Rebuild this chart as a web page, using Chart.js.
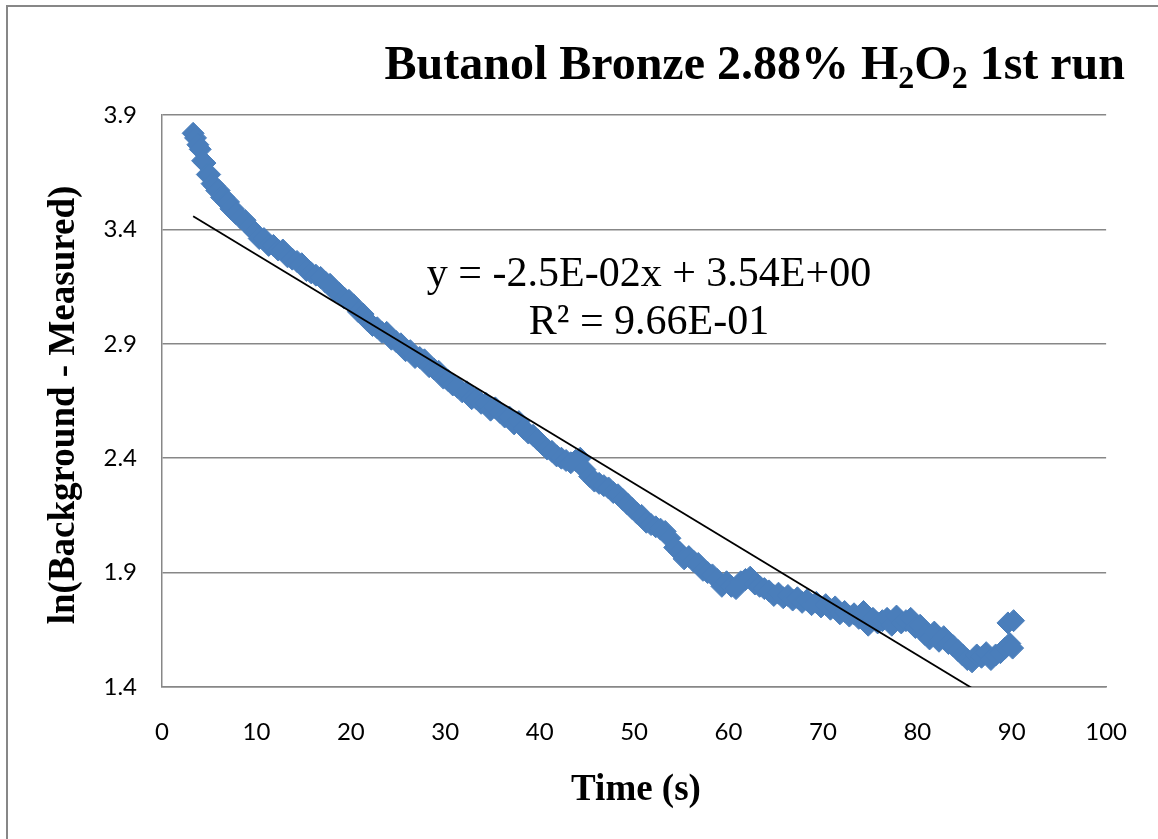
<!DOCTYPE html>
<html>
<head>
<meta charset="utf-8">
<script src="https://cdn.jsdelivr.net/npm/chart.js@4.4.1/dist/chart.umd.min.js"></script>
<style>
  html, body { margin: 0; padding: 0; background: #fff; }
  #wrap { width: 1158px; height: 839px; position: relative; }
</style>
</head>
<body>
<div id="wrap"><canvas id="decayChart" width="1158" height="839"></canvas></div>
<script>
// Time (s) of each reading
const times = [
  3.3, 3.55, 3.8, 4.05, 4.3, 4.55, 4.8, 5.05, 5.3, 5.55, 5.8, 6.05, 6.3, 6.55, 6.8, 7.05, 7.3, 7.55, 7.8,
  8.3, 8.8, 9.3, 9.8, 10.3, 10.8, 11.3, 11.8, 12.3, 12.8, 13.3, 13.8, 14.3, 14.8, 15.3, 15.8, 16.3, 16.8, 17.3, 17.8, 18.3, 18.8, 19.3, 19.8,
  20.3, 20.8, 21.3, 21.8, 22.3, 22.8, 23.3, 23.8, 24.3, 24.8, 25.3, 25.8, 26.3, 26.8, 27.3, 27.8, 28.3, 28.8, 29.3, 29.8,
  30.3, 30.8, 31.3, 31.8, 32.3, 32.8, 33.3, 33.8, 34.3, 34.8, 35.3, 35.8, 36.3, 36.8, 37.3, 37.8, 38.3, 38.8, 39.3, 39.8,
  40.3, 40.8, 41.3, 41.8, 42.3, 42.8, 43.3, 43.8, 44.3, 44.8, 45.3, 45.8, 46.3, 46.8, 47.3, 47.8, 48.3, 48.8, 49.3, 49.8,
  50.3, 50.8, 51.3, 51.8, 52.3, 52.8, 53.3, 53.8, 54.3, 54.8, 55.3, 55.8, 56.3, 56.8, 57.3, 57.8, 58.3, 58.8, 59.3, 59.8,
  60.3, 60.8, 61.3, 61.8, 62.3, 62.8, 63.3, 63.8, 64.3, 64.8, 65.3, 65.8, 66.3, 66.8, 67.3, 67.8, 68.3, 68.8, 69.3, 69.8,
  70.3, 70.8, 71.3, 71.8, 72.3, 72.8, 73.3, 73.8, 74.3, 74.8, 75.3, 75.8, 76.3, 76.8, 77.3, 77.8, 78.3, 78.8, 79.3, 79.8,
  80.3, 80.8, 81.3, 81.8, 82.3, 82.8, 83.3, 83.8, 84.3, 84.8, 85.3, 85.8, 86.3, 86.8, 87.3, 87.8, 88.3, 88.8, 89.3, 89.8,
  89.6, 90.1, 90.2
];

// ln(Background - Measured)
const lnSignal = [
  3.82, 3.80, 3.77, 3.75, 3.70, 3.69, 3.64, 3.64, 3.60, 3.59, 3.57, 3.57, 3.54, 3.54, 3.52, 3.52, 3.49, 3.49, 3.47,
  3.45, 3.44, 3.41, 3.39, 3.36, 3.36, 3.33, 3.33, 3.31, 3.31, 3.28, 3.27, 3.26, 3.25, 3.22, 3.21, 3.20, 3.19, 3.17, 3.16, 3.13, 3.12, 3.10, 3.09,
  3.07, 3.04, 3.03, 3.00, 2.98, 2.97, 2.95, 2.95, 2.92, 2.91, 2.90, 2.87, 2.87, 2.84, 2.84, 2.83, 2.80, 2.79, 2.78, 2.75,
  2.74, 2.72, 2.71, 2.69, 2.69, 2.66, 2.66, 2.64, 2.64, 2.61, 2.62, 2.60, 2.58, 2.58, 2.55, 2.56, 2.53, 2.51, 2.50, 2.48,
  2.46, 2.44, 2.43, 2.41, 2.40, 2.39, 2.38, 2.39, 2.40, 2.35, 2.32, 2.30, 2.29, 2.28, 2.27, 2.25, 2.24, 2.22, 2.20, 2.18,
  2.16, 2.15, 2.12, 2.11, 2.10, 2.09, 2.08, 2.05, 2.01, 1.99, 1.96, 1.97, 1.95, 1.94, 1.91, 1.90, 1.89, 1.87, 1.84, 1.86,
  1.84, 1.83, 1.86, 1.87, 1.88, 1.85, 1.84, 1.83, 1.82, 1.80, 1.81, 1.79, 1.80, 1.78, 1.79, 1.77, 1.78, 1.76, 1.77, 1.75,
  1.76, 1.74, 1.75, 1.72, 1.73, 1.71, 1.72, 1.70, 1.73, 1.67, 1.70, 1.68, 1.69, 1.70, 1.67, 1.71, 1.68, 1.69, 1.70, 1.66,
  1.67, 1.63, 1.61, 1.64, 1.60, 1.62, 1.59, 1.58, 1.56, 1.54, 1.52, 1.51, 1.54, 1.53, 1.55, 1.52, 1.54, 1.55, 1.57, 1.59,
  1.68, 1.57, 1.69
];

// linear fit shown on the chart
const fitSlope = -2.5e-2;
const fitIntercept = 3.54;
const fitR2 = 9.66e-1;

const xTicks = [0, 10, 20, 30, 40, 50, 60, 70, 80, 90, 100];
const yTicks = [1.4, 1.9, 2.4, 2.9, 3.4, 3.9];

const titleParts = [
  { text: "Butanol Bronze 2.88% H" },
  { text: "2", sub: true },
  { text: "O" },
  { text: "2", sub: true },
  { text: " 1st run" }
];
const xTitle = "Time (s)";
const yTitle = "ln(Background - Measured)";

const GRID = "#878787";
const BLUE = "#4a7ebb";
const SERIF = '"Liberation Serif", "Times New Roman", serif';

const points = times.map((t, i) => ({ x: t, y: lnSignal[i] }));
const tStart = Math.min(...times);
const tEnd = Math.max(...times);
const fitLine = [
  { x: tStart, y: fitSlope * tStart + fitIntercept },
  { x: tEnd, y: fitSlope * tEnd + fitIntercept }
];

function expLabel(v, digits) {
  // 3.54 -> 3.54E+00, -0.025 -> -2.5E-02
  const [m, e] = v.toExponential(digits).split("e");
  const n = parseInt(e, 10);
  return m + "E" + (n < 0 ? "-" : "+") + String(Math.abs(n)).padStart(2, "0");
}

// titles, equation and outer frame
const textPlugin = {
  id: "textLayer",
  afterDraw(chart) {
    const ctx = chart.ctx;
    ctx.save();

    ctx.strokeStyle = GRID;
    ctx.lineWidth = 2;
    ctx.strokeRect(7, 6, 1300, 1000);

    ctx.fillStyle = "#000";
    ctx.textBaseline = "alphabetic";

    // chart title with subscripts, right aligned
    const mainFont = "bold 48px " + SERIF;
    const subFont = "bold 32px " + SERIF;
    let total = 0;
    titleParts.forEach(p => {
      ctx.font = p.sub ? subFont : mainFont;
      p.w = ctx.measureText(p.text).width;
      total += p.w;
    });
    let x = 1125 - total;
    ctx.textAlign = "left";
    titleParts.forEach(p => {
      ctx.font = p.sub ? subFont : mainFont;
      ctx.fillText(p.text, x, p.sub ? 88 : 79);
      x += p.w;
    });

    // trendline equation
    ctx.font = "42px " + SERIF;
    ctx.textAlign = "center";
    const eq = "y = " + expLabel(fitSlope, 1) + "x + " + expLabel(fitIntercept, 2);
    ctx.fillText(eq, 649, 286);
    ctx.fillText("R\u00b2 = " + expLabel(fitR2, 2), 649, 334);

    // axis titles
    ctx.font = "bold 37px " + SERIF;
    ctx.fillText(xTitle, 636, 800);
    ctx.translate(64, 405);
    ctx.rotate(-Math.PI / 2);
    ctx.textBaseline = "middle";
    ctx.fillText(yTitle, 0, 0);

    ctx.restore();
  }
};

Chart.defaults.font.family = "Lato, 'Open Sans', sans-serif";
Chart.defaults.color = "#000";

new Chart(document.getElementById("decayChart"), {
  data: {
    datasets: [
      {
        type: "line",
        label: "Linear fit",
        data: fitLine,
        borderColor: "#000",
        borderWidth: 1.8,
        pointRadius: 0,
        fill: false,
        order: 0
      },
      {
        type: "scatter",
        label: "ln(Background - Measured)",
        data: points,
        pointStyle: "rectRot",
        pointRadius: 11,
        pointBackgroundColor: BLUE,
        pointBorderColor: BLUE,
        pointBorderWidth: 1,
        order: 1
      }
    ]
  },
  options: {
    responsive: false,
    animation: false,
    events: [],
    layout: { padding: { left: 0, top: 115, right: 50, bottom: 0 } },
    plugins: {
      legend: { display: false },
      title: { display: false },
      tooltip: { enabled: false }
    },
    scales: {
      x: {
        type: "linear",
        position: "bottom",
        min: 0,
        max: 100,
        afterBuildTicks: s => { s.ticks = xTicks.map(v => ({ value: v })); },
        afterFit: s => { s.height = 152; },
        grid: { display: false, drawTicks: false },
        border: { display: true, color: GRID, width: 1.5 },
        ticks: { font: { size: 24 }, padding: 31, maxRotation: 0, autoSkip: false }
      },
      y: {
        type: "linear",
        min: 1.4,
        max: 3.9,
        afterBuildTicks: s => { s.ticks = yTicks.map(v => ({ value: v })); },
        afterFit: s => { s.width = 162; },
        grid: { color: GRID, lineWidth: 1.5, drawTicks: false },
        border: { display: true, color: GRID, width: 1.5 },
        ticks: {
          font: { size: 24 },
          padding: 25,
          autoSkip: false,
          callback: v => v.toFixed(1)
        }
      }
    }
  },
  plugins: [textPlugin]
});
</script>
</body>
</html>
